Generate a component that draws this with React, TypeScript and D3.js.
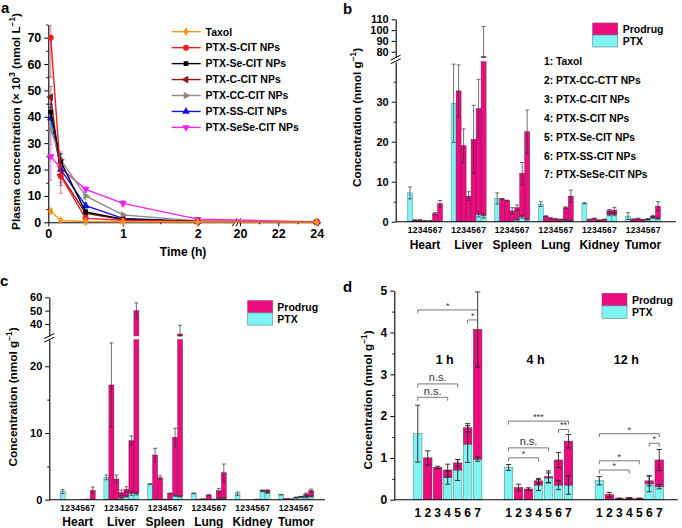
import { useEffect, useRef } from 'react';
import * as d3 from 'd3';

const FONT = '"Liberation Sans", Arial, Helvetica, sans-serif';
const MAGENTA = '#ec0c80';
const CYAN = '#80f3f3';

// ---------- a: plasma concentration ----------
const pkTimes = [0.033, 0.167, 0.5, 1, 2, 24];
const pkNames = ['Taxol', 'PTX-S-CIT NPs', 'PTX-Se-CIT NPs', 'PTX-C-CIT NPs', 'PTX-CC-CIT NPs', 'PTX-SS-CIT NPs', 'PTX-SeSe-CIT NPs'];
const pkColors = ['#f7941d', '#ed1c24', '#000000', '#8b1a1a', '#8c8c8c', '#1414e6', '#f022f0'];
const pkShapes = ['diamond', 'circle', 'square', 'left', 'right', 'up', 'down'];
const pkTaxol = [4.2, 0.7, 0.3, 0.2, 0.1, 0.05];
const pkS = [70, 17.5, 1.5, 0.8, 0.3, 0.1];
const pkSe = [41.8, 23, 3.9, 1.2, 0.3, 0.1];
const pkC = [47.5, 18, 3.4, 1.0, 0.3, 0.1];
const pkCC = [35.5, 23.7, 10, 2.8, 0.5, 0.1];
const pkSS = [39.5, 20, 6.3, 1.5, 0.3, 0.1];
const pkSeSe = [25, 20.5, 12.5, 7.2, 1.2, 0.1];
const pkErrTaxol = [0.8, 0.3, 1.2, 0.1, 0.1, 0.05];
const pkErrS = [15, 6.5, 1, 0.3, 0.2, 0.1];
const pkErrSe = [3, 3, 1, 0.3, 0.1, 0.05];
const pkErrC = [4, 3, 1, 0.2, 0.1, 0.05];
const pkErrCC = [6, 3, 1.5, 0.5, 0.2, 0.05];
const pkErrSS = [4, 6, 1, 0.3, 0.1, 0.05];
const pkErrSeSe = [9, 4, 1, 1, 0.3, 0.05];
const pkValues = [pkTaxol, pkS, pkSe, pkC, pkCC, pkSS, pkSeSe];
const pkErrors = [pkErrTaxol, pkErrS, pkErrSe, pkErrC, pkErrCC, pkErrSS, pkErrSeSe];

// ---------- b / c: biodistribution ----------
const organs = ['Heart', 'Liver', 'Spleen', 'Lung', 'Kidney', 'Tumor'];
const formulations = ['1: Taxol', '2: PTX-CC-CTT NPs', '3: PTX-C-CIT NPs', '4: PTX-S-CIT NPs', '5: PTX-Se-CIT NPs', '6: PTX-SS-CIT NPs', '7: PTX-SeSe-CIT NPs'];

const bTotal = [
  [7.2, 0.4, 0.4, 0.2, 0.2, 2.0, 4.5],
  [29.6, 32.7, 19.0, 6.4, 20.6, 28.3, 75.3],
  [5.8, 5.7, 5.3, 2.7, 3.5, 12.1, 22.5],
  [4.4, 1.4, 0.9, 0.7, 0.6, 3.5, 6.4],
  [4.6, 0.6, 0.8, 0.4, 0.6, 2.75, 2.9],
  [1.4, 0.6, 0.75, 0.5, 0.7, 1.4, 3.9],
];
const bTotalErr = [
  [1.5, 0.1, 0.15, 0.05, 0.05, 0.3, 0.8],
  [9.8, 6.5, 4.2, 1.1, 8.5, 7.3, 28],
  [1.4, 0.1, 0.1, 0.8, 0.7, 2.7, 5.4],
  [0.6, 0.1, 0.1, 0.05, 0.05, 0.2, 1.5],
  [0.15, 0.05, 0.1, 0.05, 0.05, 0.3, 0.7],
  [0.85, 0.1, 0.1, 0.05, 0.1, 0.2, 1.1],
];
const bPtx = [
  [7.2, 0, 0, 0, 0, 0.1, 0.1],
  [29.6, 0, 0, 0, 0, 1.8, 1.5],
  [5.8, 0, 0, 0.2, 0.5, 1.2, 0.6],
  [4.4, 0, 0, 0, 0, 0.4, 0.3],
  [4.6, 0, 0, 0, 0, 1.8, 1.8],
  [1.4, 0, 0, 0, 0.5, 1.0, 0.8],
];
const bPtxErr = [
  [0, 0, 0, 0, 0, 0, 0],
  [0, 0, 0, 0, 0, 0.6, 0.6],
  [0, 0, 0, 0, 0.1, 0.3, 0.2],
  [0, 0, 0, 0, 0, 0.1, 0.1],
  [0, 0, 0, 0, 0, 0.3, 0.3],
  [0, 0, 0, 0, 0.1, 0.2, 0.2],
];

const cTotal = [
  [1.2, 0, 0, 0, 0.05, 0.1, 1.4],
  [3.35, 17.2, 3.1, 1.05, 1.55, 8.85, 50],
  [2.35, 6.7, 3.3, 0.1, 0.95, 9.35, 32.5],
  [0.95, 0.1, 0.15, 0.7, 0.1, 1.35, 4.05],
  [0.9, 0, 0, 0, 0.1, 1.4, 1.4],
  [0.75, 0.2, 0.15, 0.35, 0.45, 0.85, 1.35],
];
const cTotalErr = [
  [0.3, 0, 0, 0, 0, 0, 0.5],
  [0.35, 6.3, 0.6, 0.4, 0.4, 0.7, 5.8],
  [0.05, 1.0, 0.3, 0, 0.05, 1.35, 6.5],
  [0.05, 0, 0, 0.1, 0, 0.35, 1.3],
  [0.25, 0, 0, 0, 0, 0.05, 0.1],
  [0.05, 0, 0, 0.05, 0.05, 0.15, 0.25],
];
const cPtx = [
  [1.2, 0, 0, 0, 0, 0, 0],
  [3.35, 0, 0, 0.3, 0.5, 0.95, 0.9],
  [2.35, 0, 0, 0, 0, 0.6, 0.5],
  [0.95, 0, 0, 0, 0, 0.2, 0.2],
  [0.9, 0, 0, 0, 0, 1.3, 1.05],
  [0.75, 0, 0, 0.3, 0.4, 0.4, 0.5],
];
const cPtxErr = [
  [0, 0, 0, 0, 0, 0, 0],
  [0, 0, 0, 0.1, 0.1, 0.3, 0.2],
  [0, 0, 0, 0, 0, 0.1, 0.1],
  [0, 0, 0, 0, 0, 0.05, 0.05],
  [0, 0, 0, 0, 0, 0.1, 0.1],
  [0, 0, 0, 0.05, 0.05, 0.1, 0.1],
];

// ---------- d: tumor over time ----------
const dTimes = ['1 h', '4 h', '12 h'];
const dTotal = [
  [1.58, 1.0, 0.77, 0.71, 0.88, 1.72, 4.07],
  [0.77, 0.29, 0.255, 0.45, 0.55, 0.95, 1.40],
  [0.455, 0.12, 0.03, 0.04, 0.03, 0.45, 0.95],
];
const dTotalErr = [
  [0.68, 0.17, 0.03, 0.14, 0.08, 0.1, 0.9],
  [0.07, 0.08, 0.03, 0.06, 0.14, 0.18, 0.16],
  [0.1, 0.055, 0.01, 0.01, 0.01, 0.12, 0.25],
];
const dPtx = [
  [1.58, 0, 0, 0.53, 0.71, 1.33, 0.97],
  [0.77, 0, 0, 0.35, 0.52, 0.35, 0.35],
  [0.455, 0, 0, 0, 0, 0.38, 0.31],
];
const dPtxErr = [
  [0, 0, 0, 0.16, 0.25, 0.44, 0.05],
  [0, 0, 0, 0.13, 0.12, 0.11, 0.22],
  [0, 0, 0, 0, 0, 0.19, 0.05],
];
const sigTime = [0, 0, 0, 0, 1, 1, 1, 1, 2, 2, 2, 2];
const sigFrom = [1, 6, 1, 1, 1, 6, 1, 1, 1, 6, 1, 1];
const sigTo = [7, 7, 5, 4, 7, 7, 5, 4, 7, 7, 5, 4];
const sigLevel = [4.54, 4.3, 2.77, 2.45, 1.88, 1.68, 1.24, 1.0, 1.58, 1.35, 0.93, 0.71];
const sigText = ['*', '*', 'n.s.', 'n.s.', '***', '**', 'n.s.', '*', '*', '*', '*', '*'];

const styleAxis = (sel: any, size: number) => {
  sel.select('.domain').attr('stroke', '#000').attr('stroke-width', 1.1);
  sel.selectAll('.tick line').attr('stroke', '#000').attr('stroke-width', 1);
  sel.selectAll('.tick text')
    .attr('fill', '#000')
    .style('font-family', FONT)
    .style('font-weight', 'bold')
    .style('font-size', `${size}px`);
};

const addText = (g: any, x: number, y: number, txt: string, size: number, anchor = 'start', weight = 'bold') =>
  g.append('text')
    .attr('x', x)
    .attr('y', y)
    .attr('text-anchor', anchor)
    .style('font-family', FONT)
    .style('font-weight', weight)
    .style('font-size', `${size}px`)
    .attr('fill', '#000')
    .text(txt);

// rotated y label with superscripts
const rotLabel = (g: any, x: number, cy: number, parts: [string, boolean][], size: number) => {
  const t = g.append('text')
    .attr('transform', `translate(${x},${cy}) rotate(-90)`)
    .attr('text-anchor', 'middle')
    .style('font-family', FONT)
    .style('font-weight', 'bold')
    .style('font-size', `${size}px`)
    .attr('fill', '#000');
  let up = false;
  parts.forEach(([s, sup]) => {
    const sp = t.append('tspan').text(s);
    if (sup && !up) { sp.attr('dy', -size * 0.42).style('font-size', `${size * 0.7}px`); up = true; }
    else if (sup) { sp.style('font-size', `${size * 0.7}px`); }
    else if (up) { sp.attr('dy', size * 0.42); up = false; }
  });
};

const breakMark = (g: any, cx: number, cy: number, horizontal: boolean) => {
  [-1.8, 1.8].forEach(off => {
    if (horizontal) {
      g.append('line')
        .attr('x1', cx + off - 2.5).attr('y1', cy + 4)
        .attr('x2', cx + off + 2.5).attr('y2', cy - 4)
        .attr('stroke', '#000').attr('stroke-width', 1);
    } else {
      g.append('line')
        .attr('x1', cx - 5).attr('y1', cy + off + 2.5)
        .attr('x2', cx + 5).attr('y2', cy + off - 2.5)
        .attr('stroke', '#000').attr('stroke-width', 1);
    }
  });
};

const legendSwatches = (g: any, x: number, y: number, h: number, textX: number, size: number) => {
  g.append('rect').attr('x', x).attr('y', y).attr('width', 25).attr('height', h)
    .attr('fill', MAGENTA).attr('stroke', '#8a4a6a').attr('stroke-width', 0.6);
  g.append('rect').attr('x', x).attr('y', y + h).attr('width', 25).attr('height', h)
    .attr('fill', CYAN).attr('stroke', '#5a8a8a').attr('stroke-width', 0.6);
  addText(g, textX, y + h / 2 + 4, 'Prodrug', size);
  addText(g, textX, y + h * 1.5 + 4, 'PTX', size);
};

function drawPanelA(svg: any) {
  const g = svg.append('g');
  const x = d3.scaleLinear().domain([0, 2.5, 19.9, 24.2]).range([48.3, 235, 238, 320.5]);
  const y = d3.scaleLinear().domain([0, 75]).range([222.3, 24.5]);

  g.append('g').attr('transform', 'translate(48.3,0)')
    .call(d3.axisLeft(y).tickValues(d3.range(0, 71, 10)).tickSize(4).tickSizeOuter(0).tickPadding(3).tickFormat(d3.format('d')))
    .call(styleAxis, 12.5);
  g.append('g').attr('transform', 'translate(48.3,0)')
    .call(d3.axisLeft(y).tickValues(d3.range(5, 76, 10)).tickSize(2).tickFormat(() => ''))
    .call((s: any) => s.select('.domain').remove())
    .call(styleAxis, 12);

  g.append('g').attr('transform', 'translate(0,222.3)')
    .call(d3.axisBottom(x).tickValues([0, 1, 2, 20, 22, 24]).tickSize(4).tickSizeOuter(0).tickPadding(3).tickFormat(d3.format('d')))
    .call(styleAxis, 12.5);
  g.append('g').attr('transform', 'translate(0,222.3)')
    .call(d3.axisBottom(x).tickValues([0.5, 1.5, 21, 23]).tickSize(2).tickFormat(() => ''))
    .call((s: any) => s.select('.domain').remove())
    .call(styleAxis, 12);
  g.append('rect').attr('x', 234.5).attr('y', 219).attr('width', 4).attr('height', 6).attr('fill', '#fff');
  breakMark(g, 236.5, 222.3, true);

  const line = d3.line<number>().x((_, j) => x(pkTimes[j])).y(v => y(v));
  const shapeOf = (s: string) => {
    if (s === 'diamond') return { t: d3.symbolDiamond, r: 0, size: 22 };
    if (s === 'circle') return { t: d3.symbolCircle, r: 0, size: 28 };
    if (s === 'square') return { t: d3.symbolSquare, r: 0, size: 22 };
    const rot: any = { left: -90, right: 90, up: 0, down: 180 };
    return { t: d3.symbolTriangle, r: rot[s], size: 26 };
  };

  // draw series back to front
  d3.range(pkNames.length).reverse().forEach(i => {
    const col = pkColors[i];
    const vals = pkValues[i];
    const errs = pkErrors[i];
    vals.forEach((v, j) => {
      const cx = x(pkTimes[j]);
      const y1 = y(v - errs[j]);
      const hiV = v + errs[j];
      const y2 = y(Math.min(hiV, 75));
      g.append('line').attr('x1', cx).attr('x2', cx).attr('y1', y1).attr('y2', y2)
        .attr('stroke', col).attr('stroke-width', 0.8).attr('opacity', 0.7);
      const caps = hiV > 75 ? [y1] : [y1, y2];
      caps.forEach(yy => g.append('line').attr('x1', cx - 2).attr('x2', cx + 2).attr('y1', yy).attr('y2', yy)
        .attr('stroke', col).attr('stroke-width', 0.8).attr('opacity', 0.7));
    });
    g.append('path').attr('d', line(vals)).attr('fill', 'none').attr('stroke', col).attr('stroke-width', 1.4);
    const sh = shapeOf(pkShapes[i]);
    vals.forEach((v, j) => {
      g.append('path').attr('d', d3.symbol().type(sh.t).size(sh.size)())
        .attr('transform', `translate(${x(pkTimes[j])},${y(v)}) rotate(${sh.r})`)
        .attr('fill', col);
    });
  });

  // legend
  pkNames.forEach((name, i) => {
    const ly = 31.7 + i * 15.95;
    const col = pkColors[i];
    g.append('line').attr('x1', 171.7).attr('x2', 200.7).attr('y1', ly).attr('y2', ly)
      .attr('stroke', col).attr('stroke-width', 1.4);
    const sh = shapeOf(pkShapes[i]);
    g.append('path').attr('d', d3.symbol().type(sh.t).size(sh.size)())
      .attr('transform', `translate(186,${ly}) rotate(${sh.r})`).attr('fill', col);
    addText(g, 205.5, ly + 3.8, name, 10.5);
  });

  addText(g, 183, 256, 'Time (h)', 12, 'middle');
  rotLabel(g, 19.5, 121.5, [['Plasma concentration (× 10', false], ['3', true], [' (nmol L', false], ['−1', true], [')', false]], 11.8);
  addText(g, 1, 13, 'a', 15);
}

function drawOrganPanel(svg: any, o: any) {
  const g = svg.append('g');
  const lower = d3.scaleLinear().domain(o.lowDomain).range(o.lowRange);
  const upper = d3.scaleLinear().domain(o.upDomain).range(o.upRange);
  const lowMax = o.lowDomain[1];
  const upMin = o.upDomain[0];
  const base = o.lowRange[0];
  const gx = d3.scaleBand().domain(organs).range(o.groupRange);
  const bw = gx.bandwidth();
  const bx = d3.scaleBand<number>().domain(d3.range(7)).range([(bw - 7 * o.barW) / 2, (bw + 7 * o.barW) / 2]);

  // y axes (broken)
  g.append('g').attr('transform', `translate(${o.axisX},0)`)
    .call(d3.axisLeft(lower).tickValues(o.lowTicks).tickSize(4).tickSizeOuter(0).tickPadding(3).tickFormat(d3.format('d')))
    .call(styleAxis, o.tickFont);
  g.append('g').attr('transform', `translate(${o.axisX},0)`)
    .call(d3.axisLeft(lower).tickValues(o.lowMinor).tickSize(2).tickFormat(() => ''))
    .call((s: any) => s.select('.domain').remove())
    .call(styleAxis, o.tickFont);
  g.append('g').attr('transform', `translate(${o.axisX},0)`)
    .call(d3.axisLeft(upper).tickValues(o.upTicks).tickSize(4).tickSizeOuter(0).tickPadding(3).tickFormat(d3.format('d')))
    .call(styleAxis, o.tickFont);
  breakMark(g, o.axisX, (o.lowRange[1] + o.upRange[0]) / 2, false);

  const errBar = (cx: number, v: number, e: number, capW: number) => {
    if (!(e > 0)) return;
    let lo = v - e;
    let hi = v + e;
    let yLo: number;
    let yHi: number;
    if (v > upMin) {
      if (lo < upMin) lo = upMin;
      yLo = upper(lo); yHi = upper(hi);
    } else {
      if (lo < 0) lo = 0;
      if (hi > lowMax) hi = lowMax;
      yLo = lower(lo); yHi = lower(hi);
    }
    g.append('line').attr('x1', cx).attr('x2', cx).attr('y1', yLo).attr('y2', yHi)
      .attr('stroke', '#333').attr('stroke-width', 0.7);
    [yLo, yHi].forEach(yy => g.append('line').attr('x1', cx - capW / 2).attr('x2', cx + capW / 2)
      .attr('y1', yy).attr('y2', yy).attr('stroke', '#333').attr('stroke-width', 0.7));
  };

  organs.forEach((org, oi) => {
    for (let j = 0; j < 7; j++) {
      const x0 = (gx(org) as number) + (bx(j) as number);
      const w = bx.bandwidth();
      const total = o.total[oi][j];
      const ptx = o.ptx[oi][j];
      if (ptx > 0) {
        g.append('rect').attr('x', x0).attr('width', w)
          .attr('y', lower(ptx)).attr('height', base - lower(ptx))
          .attr('fill', CYAN).attr('stroke', '#3f6f6f').attr('stroke-width', 0.4);
      }
      if (total > ptx) {
        const top = Math.min(total, lowMax);
        g.append('rect').attr('x', x0).attr('width', w)
          .attr('y', lower(top)).attr('height', lower(ptx) - lower(top))
          .attr('fill', MAGENTA).attr('stroke', '#5a1a3a').attr('stroke-width', 0.4);
        if (total > upMin) {
          g.append('rect').attr('x', x0).attr('width', w)
            .attr('y', upper(total)).attr('height', Math.max(upper(upMin) - upper(total), 0.8))
            .attr('fill', MAGENTA).attr('stroke', '#5a1a3a').attr('stroke-width', 0.4);
        }
      }
      const cx = x0 + w / 2;
      errBar(cx, total, o.totalErr[oi][j], w - 1);
      if (ptx > 0 && ptx < total) errBar(cx, ptx, o.ptxErr[oi][j], w - 1);
      addText(g, cx, o.digitY, String(j + 1), o.digitFont, 'middle');
    }
    addText(g, (gx(org) as number) + bw / 2, o.groupY, org, 12, 'middle');
  });

  g.append('line').attr('x1', o.axisX).attr('x2', o.xEnd).attr('y1', base).attr('y2', base)
    .attr('stroke', '#000').attr('stroke-width', 1.1);
  return g;
}

function drawPanelB(svg: any) {
  const g = drawOrganPanel(svg, {
    lowDomain: [0, 40], lowRange: [221.7, 61.7],
    upDomain: [75, 110], upRange: [57.1, 19.3],
    lowTicks: [0, 10, 20, 30], lowMinor: [5, 15, 25, 35], upTicks: [80, 90, 100, 110],
    axisX: 395.7, xEnd: 676, groupRange: [403.2, 664.8], barW: 5,
    total: bTotal, totalErr: bTotalErr, ptx: bPtx, ptxErr: bPtxErr,
    tickFont: 11, digitY: 232.5, digitFont: 8.5, groupY: 248.5,
  });
  legendSwatches(g, 592.7, 23, 12, 622.7, 10.5);
  formulations.forEach((f, i) => addText(g, 544, 65 + i * 18.9, f, 10.3));
  rotLabel(g, 361, 117.5, [['Concentration (nmol g', false], ['−1', true], [')', false]], 11.8);
  addText(g, 343, 14, 'b', 15);
}

function drawPanelC(svg: any) {
  const g = drawOrganPanel(svg, {
    lowDomain: [0, 24], lowRange: [499.7, 339.6],
    upDomain: [31, 60], upRange: [336, 297.3],
    lowTicks: [0, 10, 20], lowMinor: [5, 15], upTicks: [40, 50, 60],
    axisX: 49.3, xEnd: 325, groupRange: [55.85, 318.05], barW: 5,
    total: cTotal, totalErr: cTotalErr, ptx: cPtx, ptxErr: cPtxErr,
    tickFont: 11, digitY: 510.5, digitFont: 8.5, groupY: 525.5,
  });
  legendSwatches(g, 247.7, 300.7, 12.2, 277.3, 10.5);
  rotLabel(g, 16.5, 397, [['Concentration (nmol g', false], ['−1', true], [')', false]], 11.8);
  addText(g, 0, 285.5, 'c', 15);
}

function drawPanelD(svg: any) {
  const g = svg.append('g');
  const y = d3.scaleLinear().domain([0, 5]).range([499.7, 290.7]);
  const gx = d3.scaleBand().domain(dTimes).range([402.3, 674.7]);
  const bw = gx.bandwidth();
  const bx = d3.scaleBand<number>().domain(d3.range(7)).range([(bw - 71.4) / 2, (bw + 71.4) / 2]).padding(0.15);
  const base = y(0);

  g.append('g').attr('transform', 'translate(394.3,0)')
    .call(d3.axisLeft(y).tickValues(d3.range(0, 6)).tickSize(4).tickSizeOuter(0).tickPadding(3).tickFormat(d3.format('d')))
    .call(styleAxis, 12);
  g.append('g').attr('transform', 'translate(394.3,0)')
    .call(d3.axisLeft(y).tickValues(d3.range(0.5, 5, 1)).tickSize(2).tickFormat(() => ''))
    .call((s: any) => s.select('.domain').remove())
    .call(styleAxis, 12);

  const errBar = (cx: number, v: number, e: number) => {
    if (!(e > 0)) return;
    const y1 = y(Math.max(v - e, 0));
    const y2 = y(v + e);
    g.append('line').attr('x1', cx).attr('x2', cx).attr('y1', y1).attr('y2', y2)
      .attr('stroke', '#222').attr('stroke-width', 0.9);
    [y1, y2].forEach(yy => g.append('line').attr('x1', cx - 2.6).attr('x2', cx + 2.6)
      .attr('y1', yy).attr('y2', yy).attr('stroke', '#222').attr('stroke-width', 0.9));
  };
  const barCx = (ti: number, j: number) => (gx(dTimes[ti]) as number) + (bx(j) as number) + bx.bandwidth() / 2;

  dTimes.forEach((t, ti) => {
    for (let j = 0; j < 7; j++) {
      const x0 = (gx(t) as number) + (bx(j) as number);
      const w = bx.bandwidth();
      const total = dTotal[ti][j];
      const ptx = dPtx[ti][j];
      if (ptx > 0) {
        g.append('rect').attr('x', x0).attr('width', w).attr('y', y(ptx)).attr('height', base - y(ptx))
          .attr('fill', CYAN).attr('stroke', '#5f8f8f').attr('stroke-width', 0.6);
      }
      if (total > ptx) {
        g.append('rect').attr('x', x0).attr('width', w).attr('y', y(total)).attr('height', y(ptx) - y(total))
          .attr('fill', MAGENTA).attr('stroke', '#6a2a4a').attr('stroke-width', 0.6);
      }
      const cx = x0 + w / 2;
      errBar(cx, total, dTotalErr[ti][j]);
      if (ptx > 0 && ptx < total) errBar(cx, ptx, dPtxErr[ti][j]);
      addText(g, cx, 516.5, String(j + 1), 12, 'middle');
    }
    addText(g, (gx(t) as number) + bw / 2 - 3, 363.5, t, 12.5, 'middle');
  });

  // significance brackets
  sigLevel.forEach((lv, k) => {
    const x1 = barCx(sigTime[k], sigFrom[k] - 1);
    const x2 = barCx(sigTime[k], sigTo[k] - 1);
    const yy = y(lv);
    g.append('path').attr('d', `M${x1},${yy + 3.5}V${yy}H${x2}V${yy + 3.5}`)
      .attr('fill', 'none').attr('stroke', '#555').attr('stroke-width', 0.8);
    const isNs = sigText[k] === 'n.s.';
    g.append('text')
      .attr('x', (x1 + x2) / 2)
      .attr('y', isNs ? yy - 2.5 : yy - 1)
      .attr('text-anchor', 'middle')
      .style('font-family', FONT)
      .style('font-size', isNs ? '11px' : '9px')
      .attr('fill', '#333')
      .text(sigText[k]);
  });

  g.append('line').attr('x1', 394.3).attr('x2', 677.7).attr('y1', base).attr('y2', base)
    .attr('stroke', '#000').attr('stroke-width', 1.1);
  legendSwatches(g, 602, 293.3, 12.6, 632, 10.5);
  rotLabel(g, 371.5, 400, [['Concentration (nmol g', false], ['−1', true], [')', false]], 11.8);
  addText(g, 343, 292, 'd', 15);
}

export default function App() {
  const ref = useRef<SVGSVGElement>(null);

  useEffect(() => {
    if (!ref.current) return;
    const svg = d3.select(ref.current);
    svg.selectAll('*').remove();
    drawPanelA(svg);
    drawPanelB(svg);
    drawPanelC(svg);
    drawPanelD(svg);
  }, []);

  return (
    <svg
      ref={ref}
      width={682}
      height={528}
      style={{ position: 'absolute', left: 0, top: 0, background: '#fff' }}
    />
  );
}
